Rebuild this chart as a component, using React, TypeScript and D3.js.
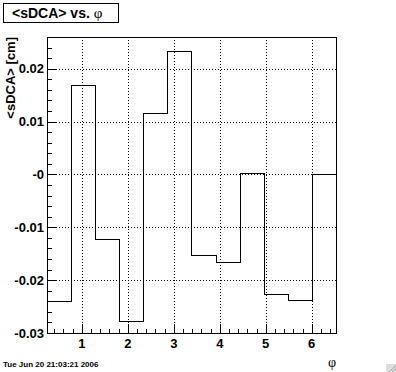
import * as d3 from "d3";

// histogram: 12 bins in phi, from 14 deg to 374 deg
const phiMin = 0.2443;
const phiMax = 6.5275;
const binValues = [
  -0.0239, 0.0169, -0.0123, -0.0277, 0.0116, 0.0233, -0.0152, -0.0165, 0.0002,
  -0.0226, -0.0238, 0.0,
];

const xTicks = [1, 2, 3, 4, 5, 6];
const yTicks = [-0.03, -0.02, -0.01, 0, 0.01, 0.02];
const yTickLabels = ["-0.03", "-0.02", "-0.01", "-0", "0.01", "0.02"];

const titleText = "<sDCA> vs. ";
const yTitle = "<sDCA> [cm]";
const dateText = "Tue Jun 20 21:03:21 2006";

const W = 396;
const H = 372;
const frame = { left: 47, right: 336, top: 37, bottom: 333 };
const font = "'Liberation Sans', Arial, Helvetica, sans-serif";
const symbolFont = "'Liberation Serif', 'Times New Roman', serif";

export default function App() {
  const x = d3.scaleLinear().domain([phiMin, phiMax]).range([frame.left, frame.right]);
  const y = d3.scaleLinear().domain([-0.03, 0.026]).range([frame.bottom, frame.top]);

  const binW = (phiMax - phiMin) / binValues.length;
  const pts: [number, number][] = [];
  binValues.forEach((v, i) => {
    pts.push([phiMin + i * binW, v]);
    pts.push([phiMin + (i + 1) * binW, v]);
  });
  const line = d3
    .line<[number, number]>()
    .x((d) => Math.round(x(d[0])) + 0.5)
    .y((d) => Math.round(y(d[1])) + 0.5);

  // minor ticks
  const xMinor = d3.range(2, 33).map((i) => i * 0.2).filter((v) => v >= phiMin && v <= phiMax);
  const yMinor = d3.range(-15, 14).map((i) => i * 0.002);

  return (
    <svg
      width={W}
      height={H}
      style={{ position: "absolute", left: 0, top: 0, background: "#fff" }}
      shapeRendering="crispEdges"
    >
      <rect x={0} y={0} width={W} height={H} fill="#fff" />

      {/* grid */}
      {xTicks.map((t) => (
        <line
          key={"gx" + t}
          x1={Math.round(x(t)) + 0.5}
          x2={Math.round(x(t)) + 0.5}
          y1={frame.top}
          y2={frame.bottom}
          stroke="#000"
          strokeDasharray="1,2"
        />
      ))}
      {yTicks.map((t) => (
        <line
          key={"gy" + t}
          x1={frame.left}
          x2={frame.right}
          y1={Math.round(y(t)) + 0.5}
          y2={Math.round(y(t)) + 0.5}
          stroke="#000"
          strokeDasharray="1,2"
        />
      ))}

      {/* histogram */}
      <path d={line(pts) ?? ""} fill="none" stroke="#000" strokeWidth={1} />

      {/* frame */}
      <rect
        x={frame.left + 0.5}
        y={frame.top + 0.5}
        width={frame.right - frame.left}
        height={frame.bottom - frame.top}
        fill="none"
        stroke="#000"
      />

      {/* x ticks */}
      {xMinor.map((t, i) => {
        const major = xTicks.some((m) => Math.abs(m - t) < 1e-6);
        const px = Math.round(x(t)) + 0.5;
        return (
          <line
            key={"xt" + i}
            x1={px}
            x2={px}
            y1={frame.bottom}
            y2={frame.bottom - (major ? 9 : 4.5)}
            stroke="#000"
          />
        );
      })}
      {xTicks.map((t, i) => (
        <text
          key={"xl" + t}
          x={x(t)}
          y={348}
          textAnchor="middle"
          fontFamily={font}
          fontWeight="bold"
          fontSize={13}
        >
          {String(xTicks[i])}
        </text>
      ))}

      {/* y ticks */}
      {yMinor.map((t, i) => {
        const major = yTicks.some((m) => Math.abs(m - t) < 1e-6);
        const py = Math.round(y(t)) + 0.5;
        return (
          <line
            key={"yt" + i}
            x1={frame.left}
            x2={frame.left + (major ? 9 : 4.5)}
            y1={py}
            y2={py}
            stroke="#000"
          />
        );
      })}
      {yTicks.map((t, i) => (
        <text
          key={"yl" + t}
          x={44}
          y={y(t)}
          dy="0.36em"
          textAnchor="end"
          fontFamily={font}
          fontWeight="bold"
          fontSize={13}
        >
          {yTickLabels[i]}
        </text>
      ))}

      {/* axis titles */}
      <text
        transform={`translate(15,${frame.top}) rotate(-90)`}
        textAnchor="end"
        fontFamily={font}
        fontWeight="bold"
        fontSize={13}
      >
        {yTitle}
      </text>
      <text x={332} y={367} textAnchor="middle" fontFamily={symbolFont} fontSize={14}>
        φ
      </text>

      {/* title box */}
      <rect x={3.5} y={3.5} width={115} height={19} fill="#fff" stroke="#000" />
      <text x={12} y={18} fontFamily={font} fontWeight="bold" fontSize={14}>
        {titleText}
        <tspan fontFamily={symbolFont} fontWeight="normal" fontSize={15}>
          φ
        </tspan>
      </text>

      {/* date stamp */}
      <text x={3} y={367} fontFamily={font} fontWeight="bold" fontSize={8}>
        {dateText}
      </text>

      {/* canvas resize grip */}
      <rect x={386} y={364} width={10} height={8} fill="#ddd" />
      <line x1={389} y1={372} x2={396} y2={365} stroke="#aaa" shapeRendering="auto" />
      <line x1={392} y1={372} x2={396} y2={368} stroke="#aaa" shapeRendering="auto" />
    </svg>
  );
}
